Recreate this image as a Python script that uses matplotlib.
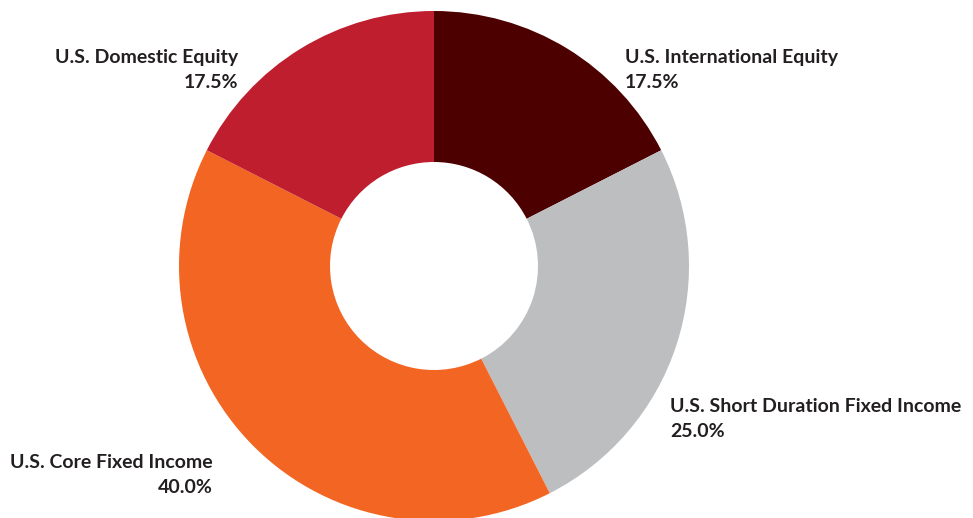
import matplotlib
matplotlib.use("Agg")
import matplotlib.pyplot as plt

# allocation data
labels = ["U.S. International Equity", "U.S. Short Duration Fixed Income",
          "U.S. Core Fixed Income", "U.S. Domestic Equity"]
shares = [17.5, 25.0, 40.0, 17.5]
colors = ["#4d0000", "#bcbec0", "#f26522", "#be1e2d"]

# label anchor (x, baseline y in pixels from top) and alignment
label_pos = [(625, 63, "left"), (670, 412, "left"),
             (213, 468, "right"), (238, 63, "right")]

W, H = 973, 518
fig = plt.figure(figsize=(W / 100, H / 100), dpi=100)
ax = fig.add_axes([0, 0, 1, 1])

ax.pie(shares, colors=colors, startangle=90, counterclock=False,
       center=(434, H - 266), radius=255,
       wedgeprops=dict(width=151, linewidth=0))

ax.set_xlim(0, W)
ax.set_ylim(0, H)
ax.set_aspect("equal")
ax.axis("off")

for lab, val, (x, y, ha) in zip(labels, shares, label_pos):
    ax.text(x, H - y, lab, ha=ha, va="baseline", fontsize=14,
            family="Lato", weight="bold", color="#231f20")
    ax.text(x, H - y - 25, "%.1f%%" % val, ha=ha, va="baseline", fontsize=14,
            family="Lato", weight="bold", color="#231f20")

fig.savefig("out.png", dpi=100)
